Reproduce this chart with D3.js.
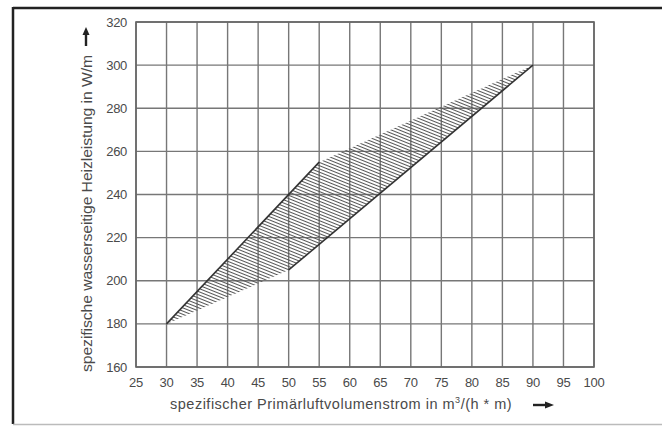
<!DOCTYPE html>
<html>
<head>
<meta charset="utf-8">
<script src="https://cdn.jsdelivr.net/npm/d3@7"></script>
<style>
  body { margin: 0; background: #fff; }
  text { font-family: "Liberation Sans", Arial, sans-serif; fill: #4a4a4a; }
</style>
</head>
<body>
<svg width="662" height="427"></svg>
<script>
// Achsen
var xTicks = [25, 30, 35, 40, 45, 50, 55, 60, 65, 70, 75, 80, 85, 90, 95, 100];
var yTicks = [160, 180, 200, 220, 240, 260, 280, 300, 320];

// Kennlinien und Streubereich
var upperLine = [[30, 180], [55, 255]];
var lowerLine = [[50, 205], [90, 300]];
var region = [[30, 180], [55, 255], [90, 300], [50, 205]];

var svg = d3.select("svg"),
	margin = {left: 136, top: 22, right: 68, bottom: 60},
	width = 662 - margin.left - margin.right,
	height = 427 - margin.top - margin.bottom;

// Rahmen
svg.append("line").attr("x1", 13).attr("y1", 8).attr("x2", 662).attr("y2", 8)
	.attr("stroke", "#222").attr("stroke-width", 2.5);
svg.append("line").attr("x1", 13).attr("y1", 7).attr("x2", 13).attr("y2", 424)
	.attr("stroke", "#222").attr("stroke-width", 2.5);
svg.append("line").attr("x1", 13).attr("y1", 424.5).attr("x2", 662).attr("y2", 424.5)
	.attr("stroke", "#bbb").attr("stroke-width", 1.5);

var x = d3.scaleLinear().domain([25, 100]).range([0, width]);
var y = d3.scaleLinear().domain([160, 320]).range([height, 0]);

var defs = svg.append("defs");
var pat = defs.append("pattern")
	.attr("id", "hatch")
	.attr("patternUnits", "userSpaceOnUse")
	.attr("width", 8).attr("height", 3)
	.attr("patternTransform", "rotate(22)");
pat.append("line").attr("x1", 0).attr("y1", 1.5).attr("x2", 8).attr("y2", 1.5)
	.attr("stroke", "#555").attr("stroke-width", 1);

var g = svg.append("g").attr("transform", "translate(" + margin.left + "," + margin.top + ")");

// Gitter
g.selectAll(".vgrid").data(xTicks).enter().append("line")
	.attr("x1", function(d) { return x(d); }).attr("x2", function(d) { return x(d); })
	.attr("y1", 0).attr("y2", height)
	.attr("stroke", "#777").attr("stroke-width", 1.4);
g.selectAll(".hgrid").data(yTicks).enter().append("line")
	.attr("y1", function(d) { return y(d); }).attr("y2", function(d) { return y(d); })
	.attr("x1", 0).attr("x2", width)
	.attr("stroke", "#777").attr("stroke-width", 1.4);
g.append("rect").attr("width", width).attr("height", height)
	.attr("fill", "none").attr("stroke", "#666").attr("stroke-width", 1.6);

var line = d3.line().x(function(d) { return x(d[0]); }).y(function(d) { return y(d[1]); });

g.append("path").attr("d", line(region) + "Z")
	.attr("fill", "url(#hatch)").attr("stroke", "none");
g.append("path").attr("d", line(upperLine))
	.attr("fill", "none").attr("stroke", "#333").attr("stroke-width", 1.6);
g.append("path").attr("d", line(lowerLine))
	.attr("fill", "none").attr("stroke", "#333").attr("stroke-width", 1.6);

// Beschriftung
g.selectAll(".xl").data(xTicks).enter().append("text")
	.attr("x", function(d) { return x(d); }).attr("y", height + 20)
	.attr("text-anchor", "middle").attr("font-size", 13).attr("letter-spacing", -0.3)
	.text(function(d) { return d; });
g.selectAll(".yl").data(yTicks).enter().append("text")
	.attr("x", -9).attr("y", function(d) { return y(d) + 4.5; })
	.attr("text-anchor", "end").attr("font-size", 13).attr("letter-spacing", -0.3)
	.text(function(d) { return d; });

var xt = svg.append("text").attr("x", 170).attr("y", 409)
	.attr("font-size", 14.5).attr("letter-spacing", 0.5);
xt.append("tspan").text("spezifischer Primärluftvolumenstrom in m");
xt.append("tspan").attr("font-size", 9).attr("dy", -6).text("3");
xt.append("tspan").attr("dy", 6).text("/(h * m)");

svg.append("text").attr("transform", "translate(92,372) rotate(-90)")
	.attr("font-size", 14.5).attr("letter-spacing", -0.1)
	.attr("textLength", 317).attr("lengthAdjust", "spacingAndGlyphs")
	.text("spezifische wasserseitige Heizleistung in W/m");

// Pfeile
svg.append("line").attr("x1", 533).attr("y1", 405).attr("x2", 547).attr("y2", 405)
	.attr("stroke", "#222").attr("stroke-width", 2.4);
svg.append("path").attr("d", "M545,401.5L554,405L545,408.5Z").attr("fill", "#222");
svg.append("line").attr("x1", 86).attr("y1", 46).attr("x2", 86).attr("y2", 33)
	.attr("stroke", "#222").attr("stroke-width", 2.4);
svg.append("path").attr("d", "M82.5,35L86,27L89.5,35Z").attr("fill", "#222");
</script>
</body>
</html>
